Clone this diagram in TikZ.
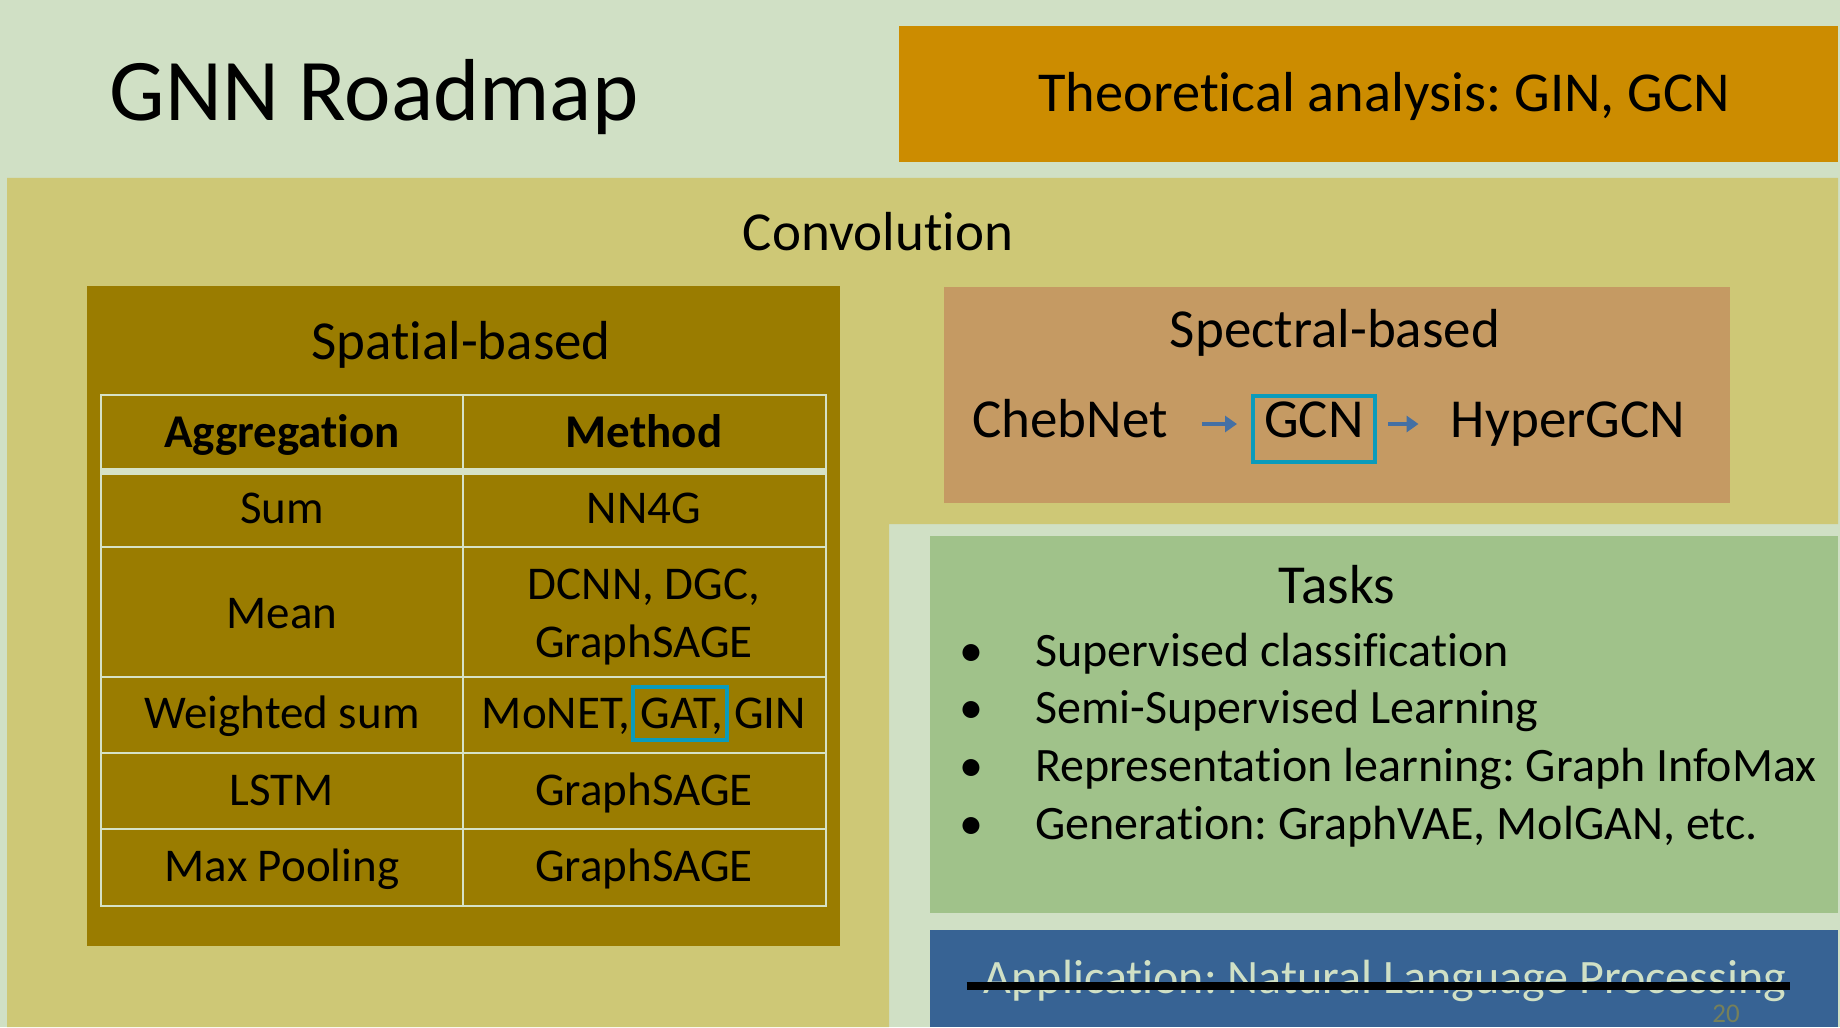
\documentclass[tikz,border=0pt]{standalone}
\usepackage{fontspec}
\setmainfont{Carlito}[RawFeature={-liga;-clig;-dlig}]
\frenchspacing
\usetikzlibrary{arrows.meta}
\definecolor{slidebg}{HTML}{D0E0C5}
\definecolor{theofill}{HTML}{CC8C00}
\definecolor{convfill}{HTML}{CEC876}
\definecolor{spatialfill}{HTML}{9A7C00}
\definecolor{spectralfill}{HTML}{C59A63}
\definecolor{taskfill}{HTML}{A0C28A}
\definecolor{appfill}{HTML}{376394}
\definecolor{hlteal}{HTML}{0B9BBB}
\definecolor{arrowblue}{HTML}{4470A4}
\definecolor{tableline}{HTML}{D6E2C6}
\definecolor{pagegray}{HTML}{76805A}
\tikzset{
  title label/.style={
    anchor=base, inner sep=0pt, font=\fontsize{44}{53}\selectfont
  },
  big label/.style={
    anchor=base, inner sep=0pt, font=\fontsize{27.5}{33}\selectfont
  },
  cell label/.style={
    anchor=base, inner sep=0pt, font=\fontsize{23.5}{28}\selectfont
  },
  task label/.style={
    anchor=base west, inner sep=0pt, font=\fontsize{24}{29}\selectfont
  },
  task bullet/.style={
    anchor=base, inner sep=0pt, font=\fontsize{24}{29}\selectfont
  },
  table line/.style={
    draw=tableline, line width=1pt
  },
  highlight/.style={
    rectangle, draw=hlteal, line width=2pt, inner sep=0pt
  },
  flow/.style={
    draw=arrowblue, line width=2pt, -{Triangle[length=6pt,width=8pt]}
  },
  strike/.style={
    draw=black, line width=4pt
  }
}

\begin{document}
\begin{tikzpicture}[x=0.5pt, y=-0.5pt]
\useasboundingbox (0,0) rectangle (1840,1027);
\fill[slidebg] (0,0) rectangle (1840,1027);

% ------------------------------------------------
% 标题与理论分析
% ------------------------------------------------
\node[title label] (title) at (374,121) {GNN Roadmap};
\fill[theofill] (899,26) rectangle (1838,162);
\node[big label, font=\fontsize{28.2}{34}\selectfont] (theo) at (1384,112)
  {Theoretical analysis: GIN, GCN};

% ------------------------------------------------
% Convolution 区域（L 形）
% ------------------------------------------------
\fill[convfill] (7,178) -- (1838,178) -- (1838,524) -- (889,524)
  -- (889,1027) -- (7,1027) -- cycle;
\node[big label] (conv) at (878,250) {Convolution};

% ------------------------------------------------
% Spatial-based 表格
% ------------------------------------------------
\begin{scope}
  \fill[spatialfill] (87,286) rectangle (840,946);
  \node[big label] (spatial) at (461,359) {Spatial-based};

  \draw[table line] (101,395) rectangle (826,906);
  \fill[tableline] (101,468) rectangle (826,475);
  \draw[table line] (463,395) -- (463,906);
  \draw[table line] (101,547) -- (826,547);
  \draw[table line] (101,677) -- (826,677);
  \draw[table line] (101,753) -- (826,753);
  \draw[table line] (101,829) -- (826,829);

  \node[cell label, font=\fontsize{23.5}{28}\bfseries] (hAgg)  at (282,447) {Aggregation};
  \node[cell label, font=\fontsize{23.5}{28}\bfseries] (hMeth) at (644,447) {Method};

  \node[cell label] (aSum)  at (282,523) {Sum};
  \node[cell label] (mSum)  at (644,523) {NN4G};
  \node[cell label] (aMean) at (282,628) {Mean};
  \node[cell label] (mMeanA) at (644,599) {DCNN, DGC,};
  \node[cell label] (mMeanB) at (644,657) {GraphSAGE};
  \node[cell label] (aWsum) at (282,728) {Weighted sum};
  \node[cell label] (mWsum) at (644,728) {MoNET, GAT, GIN};
  \node[highlight, minimum width=47pt, minimum height=26.5pt] (gatbox) at (680,713.5) {};
  \node[cell label] (aLstm) at (282,805) {LSTM};
  \node[cell label] (mLstm) at (644,805) {GraphSAGE};
  \node[cell label] (aMax)  at (282,881) {Max Pooling};
  \node[cell label] (mMax)  at (644,881) {GraphSAGE};
\end{scope}

% ------------------------------------------------
% Spectral-based：ChebNet -> GCN -> HyperGCN
% ------------------------------------------------
\begin{scope}
  \fill[spectralfill] (944,287) rectangle (1730,503);
  \node[big label] (spectral) at (1335,347) {Spectral-based};

  \node[big label] (cheb)  at (1070,437) {ChebNet};
  \node[big label] (gcn)   at (1314,437) {GCN};
  \node[highlight, minimum width=61pt, minimum height=33pt] (gcnbox) at (1314,429) {};
  \node[big label] (hyper) at (1568,437) {HyperGCN};

  \coordinate (lane) at (0,424);
  \draw[flow, shorten <=17pt, shorten >=7pt]
    (cheb.east |- lane) -- (gcnbox.west |- lane);
  \draw[flow, shorten <=5.5pt, shorten >=16pt]
    (gcnbox.east |- lane) -- (hyper.west |- lane);
\end{scope}

% ------------------------------------------------
% Tasks
% ------------------------------------------------
\begin{scope}
  \fill[taskfill] (930,536) rectangle (1838,913);
  \node[big label] (tasks) at (1337,603) {Tasks};

  \node[task bullet] (b1) at (971,666) {•};
  \node[task bullet] (b2) at (971,723) {•};
  \node[task bullet] (b3) at (971,781) {•};
  \node[task bullet] (b4) at (971,839) {•};
  \node[task label] (t1) at (1035,666) {Supervised classification};
  \node[task label] (t2) at (1035,723) {Semi-Supervised Learning};
  \node[task label] (t3) at (1035,781) {Representation learning: Graph InfoMax};
  \node[task label] (t4) at (1035,839) {Generation: GraphVAE, MolGAN, etc.};
\end{scope}

% ------------------------------------------------
% Application（划掉）
% ------------------------------------------------
\begin{scope}
  \fill[appfill] (930,930) rectangle (1838,1027);
  \node[cell label, font=\fontsize{24}{29}\selectfont, text=slidebg] (app) at (1385,993)
    {Application: Natural Language Processing};
  \draw[strike] ([xshift=-8.5pt,yshift=3.5pt]app.base west)
    -- ([xshift=1.5pt,yshift=3.5pt]app.base east);
  \node[cell label, font=\fontsize{13.5}{16}\selectfont, text=pagegray] (pagenum)
    at (1726,1022) {20};
\end{scope}
\end{tikzpicture}
\end{document}
